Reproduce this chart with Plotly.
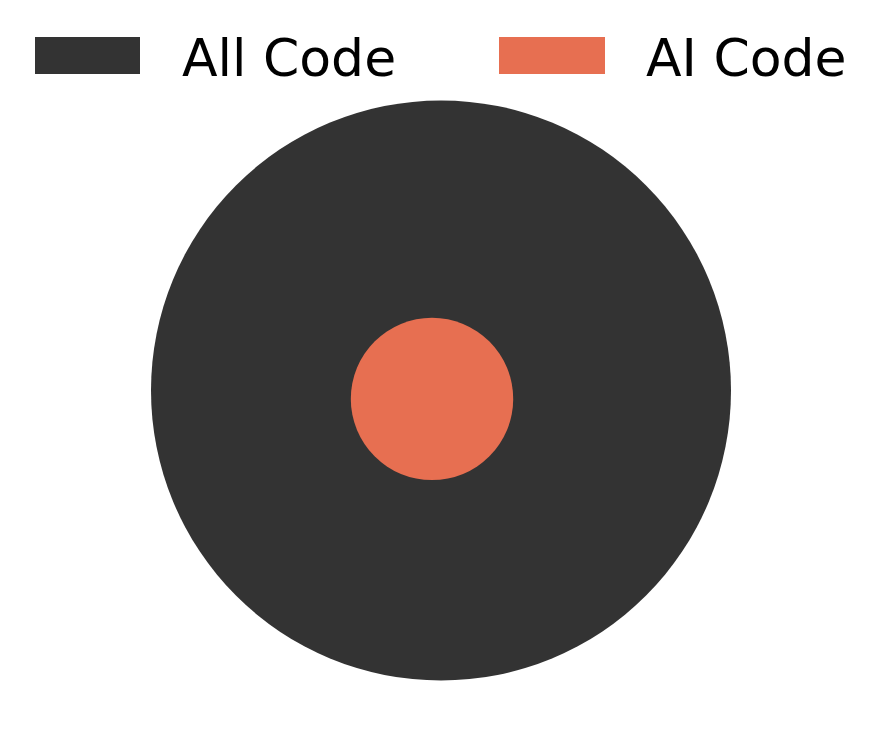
import plotly.graph_objects as go

# Data
labels = ["All Code", "AI Code"]
radii = [1.0, 0.28]
center_x = [0.0, -0.031]
center_y = [0.0, -0.029]
colors = ["#333333", "#E76F51"]

W, H = 882, 752
scale = 290.0  # px per unit
cx_px, cy_px = 441.0, 390.5

fig = go.Figure()
# invisible trace to establish axes
fig.add_trace(go.Scatter(x=center_x, y=center_y, mode="markers",
                         marker=dict(opacity=0), showlegend=False, hoverinfo="skip"))

for lab, r, x, y, c in zip(labels, radii, center_x, center_y, colors):
    fig.add_shape(type="circle", xref="x", yref="y",
                  x0=x - r, x1=x + r, y0=y - r, y1=y + r,
                  fillcolor=c, line=dict(width=0), layer="above")

# manual legend
leg_boxes = [(35, 140, 180), (499, 605, 644)]
for (bx0, bx1, tx), lab, c in zip(leg_boxes, labels, colors):
    fig.add_shape(type="rect", xref="paper", yref="paper",
                  x0=bx0 / W, x1=bx1 / W, y0=1 - 74 / H, y1=1 - 37 / H,
                  fillcolor=c, line=dict(width=0))
    fig.add_annotation(text=lab, xref="paper", yref="paper",
                       x=tx / W, y=1 - 58 / H, xanchor="left", yanchor="middle",
                       showarrow=False,
                       font=dict(family="DejaVu Sans", size=52, color="#000000"))

fig.update_layout(
    width=W, height=H,
    margin=dict(l=0, r=0, t=0, b=0),
    paper_bgcolor="white", plot_bgcolor="white",
    xaxis=dict(range=[-cx_px / scale, (W - cx_px) / scale], visible=False, fixedrange=True),
    yaxis=dict(range=[-(H - cy_px) / scale, cy_px / scale], visible=False, fixedrange=True),
    showlegend=False,
)

fig.write_html("out.html")
